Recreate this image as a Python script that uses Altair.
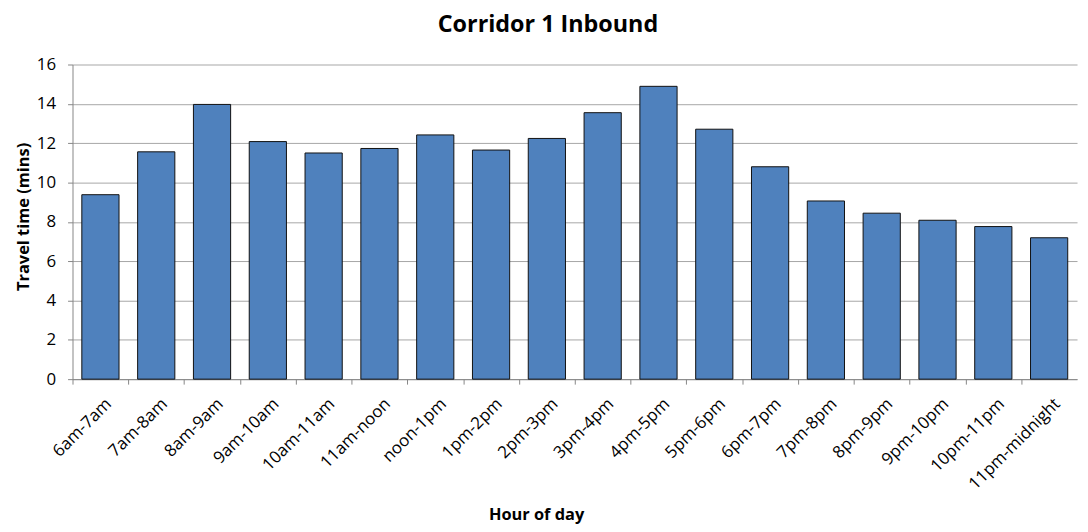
import altair as alt
import pandas as pd

hours = ["6am-7am", "7am-8am", "8am-9am", "9am-10am", "10am-11am", "11am-noon",
         "noon-1pm", "1pm-2pm", "2pm-3pm", "3pm-4pm", "4pm-5pm", "5pm-6pm",
         "6pm-7pm", "7pm-8pm", "8pm-9pm", "9pm-10pm", "10pm-11pm", "11pm-midnight"]
travel = [9.38, 11.56, 13.97, 12.08, 11.5, 11.73, 12.42, 11.65, 12.24, 13.55,
          14.89, 12.71, 10.8, 9.06, 8.44, 8.08, 7.76, 7.19]
y_ticks = [0, 2, 4, 6, 8, 10, 12, 14, 16]

df = pd.DataFrame({"hour": hours, "travel": travel})

FONT = "Open Sans"
W = 1012
H = 317
step = W / len(hours)

chart = alt.Chart(df).mark_bar(
    color="#4F81BD", stroke="#111111", strokeWidth=1
).encode(
    x=alt.X("hour:N", sort=hours,
            scale=alt.Scale(paddingInner=1/3, paddingOuter=1/6),
            axis=alt.Axis(title="Hour of day", labelAngle=-45, labelAlign="right",
                          labelBaseline="middle", labelFontSize=17, labelFont=FONT,
                          labelColor="#000000", labelPadding=17,
                          tickOffset=-step / 2, labelOffset=step / 2 + 8,
                          tickColor="#868686", tickSize=5, domainColor="#868686",
                          titleFont=FONT, titleFontSize=16.5, titleFontWeight="bold",
                          titleColor="#000000", titleX=467, titleY=141,
                          titleBaseline="alphabetic", grid=False)),
    y=alt.Y("travel:Q",
            scale=alt.Scale(domain=[0, 16], nice=False),
            axis=alt.Axis(title="Travel time (mins)", values=y_ticks,
                          labelFontSize=17, labelFont=FONT, labelColor="#000000",
                          labelPadding=12, tickColor="#868686", tickSize=5,
                          domainColor="#868686", gridColor="#A6A6A6",
                          titleFont=FONT, titleFontSize=16.5, titleFontWeight="bold",
                          titleColor="#000000", titleX=-41, titleY=153)),
).properties(
    width=W, height=H,
    title=alt.TitleParams("Corridor 1 Inbound", font=FONT, fontSize=23.5,
                          fontWeight="bold", color="#000000", dx=-27, offset=19),
    autosize=alt.AutoSizeParams(type="none"),
    padding={"left": 65, "top": 55, "right": 3, "bottom": 144},
).configure_view(stroke=None)

chart.save("out.html", embed_options={"renderer": "svg", "actions": False})
